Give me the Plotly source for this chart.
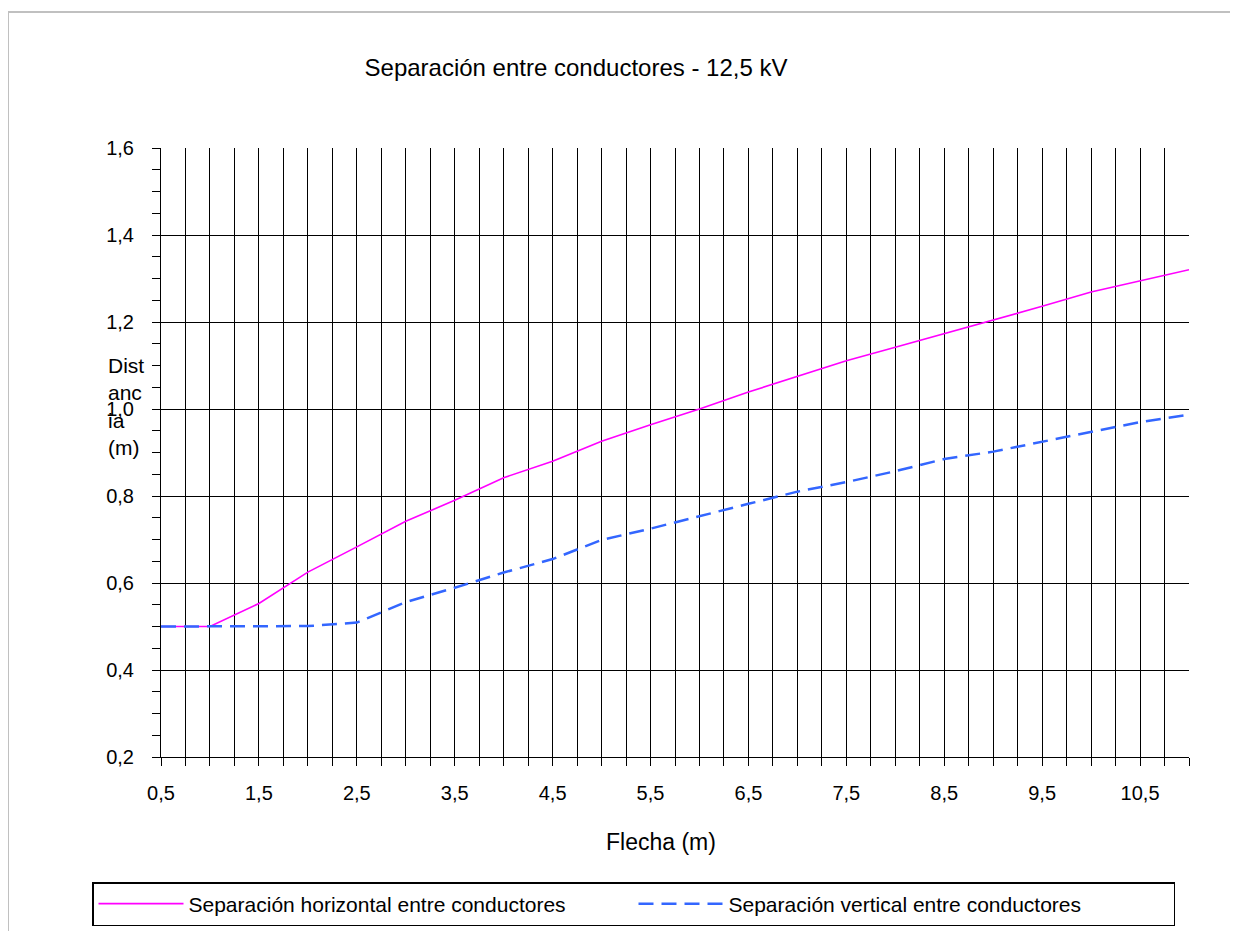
import plotly.graph_objects as go

# Flecha (m)
flecha = [0.5, 1.0, 1.5, 2.0, 2.5, 3.0, 3.5, 4.0, 4.5, 5.0, 5.5,
          6.0, 6.5, 7.0, 7.5, 8.0, 8.5, 9.0, 9.5, 10.0, 10.5, 11.0]

# distancia (m)
sep_horizontal = [0.50, 0.50, 0.553, 0.625, 0.683, 0.742, 0.79, 0.842, 0.88, 0.926, 0.964,
                  1.0, 1.039, 1.075, 1.111, 1.142, 1.173, 1.205, 1.236, 1.269, 1.295, 1.32]
sep_vertical = [0.50, 0.50, 0.50, 0.501, 0.509, 0.556, 0.589, 0.624, 0.655, 0.699, 0.725,
                0.754, 0.782, 0.81, 0.832, 0.857, 0.885, 0.902, 0.925, 0.947, 0.97, 0.987]

x_ticks = [0.5, 1.5, 2.5, 3.5, 4.5, 5.5, 6.5, 7.5, 8.5, 9.5, 10.5]
x_labels = ["0,5", "1,5", "2,5", "3,5", "4,5", "5,5", "6,5", "7,5", "8,5", "9,5", "10,5"]

FONT = "Liberation Sans, Arial, sans-serif"
OFF = 8  # body margin of the html page
W, H = 1238 - 2 * OFF, 939 - 2 * OFF
# plot area in page px
L, R, T, B = 161, 1189, 148, 757


def px_x(p):
    return (p - L) / (R - L)


def px_y(p):
    return (B - p) / (B - T)


fig = go.Figure()

fig.add_trace(go.Scatter(
    x=flecha, y=sep_horizontal, mode="lines",
    name="Separación horizontal entre conductores",
    line=dict(color="#ff00ff", width=1.6),
))
fig.add_trace(go.Scatter(
    x=flecha, y=sep_vertical, mode="lines",
    name="Separación vertical entre conductores",
    line=dict(color="#3366ff", width=2.5, dash="15px,8px"),
))

fig.update_xaxes(
    range=[0.5, 11], tickvals=x_ticks, ticktext=x_labels,
    ticks="outside", ticklen=8, tickcolor="black",
    showgrid=True, gridcolor="black", gridwidth=1,
    minor=dict(dtick=0.25, tick0=0.5, showgrid=True, gridcolor="black", gridwidth=1,
               ticks="outside", ticklen=8, tickcolor="black"),
    showline=True, linecolor="black", linewidth=1,
    zeroline=False, ticklabelstandoff=10,
    tickfont=dict(size=20, color="black"),
)
fig.update_yaxes(
    range=[0.2, 1.6], dtick=0.2, tick0=0.2, tickformat=".1f",
    ticks="outside", ticklen=8, tickcolor="black",
    showgrid=True, gridcolor="black", gridwidth=1,
    minor=dict(dtick=0.05, tick0=0.2, showgrid=False,
               ticks="outside", ticklen=8, tickcolor="black"),
    showline=True, linecolor="black", linewidth=1,
    zeroline=False, ticklabelstandoff=14,
    tickfont=dict(size=20, color="black"),
)

fig.add_annotation(
    text="Flecha (m)", xref="paper", yref="paper",
    x=px_x(661), y=px_y(842), xanchor="center", yanchor="middle",
    showarrow=False, font=dict(size=23, color="black"),
)
fig.add_annotation(
    text="Dist<br>anc<br>ia<br>(m)", xref="paper", yref="paper",
    x=px_x(106), y=px_y(406), xanchor="left", yanchor="middle", align="left",
    showarrow=False, font=dict(size=21, color="black"),
)

# outer chart frame (top and left edges visible)
fig.add_shape(type="line", xref="paper", yref="paper",
              x0=px_x(8), x1=px_x(1238), y0=px_y(12), y1=px_y(12),
              line=dict(color="#c0c0c0", width=2))
fig.add_shape(type="line", xref="paper", yref="paper",
              x0=px_x(8), x1=px_x(8), y0=px_y(12), y1=px_y(939),
              line=dict(color="#c0c0c0", width=2))

fig.update_layout(
    width=W, height=H,
    margin=dict(l=L - OFF, r=W - (R - OFF), t=T - OFF, b=H - (B - OFF), autoexpand=False),
    paper_bgcolor="white", plot_bgcolor="white",
    separators=",.",
    font=dict(family=FONT, color="black"),
    title=dict(text="Separación entre conductores - 12,5 kV",
               x=(576 - OFF) / W, xanchor="center", y=1 - (68 - OFF) / H, yanchor="middle",
               font=dict(size=24, color="black")),
    legend=dict(
        orientation="h", x=px_x(92), y=px_y(882), xanchor="left", yanchor="top",
        bordercolor="black", borderwidth=1.5, bgcolor="white",
        font=dict(size=21, color="black"),
        itemwidth=85, entrywidth=440, entrywidthmode="pixels",
    ),
    showlegend=True,
)

fig.write_html("out.html")
